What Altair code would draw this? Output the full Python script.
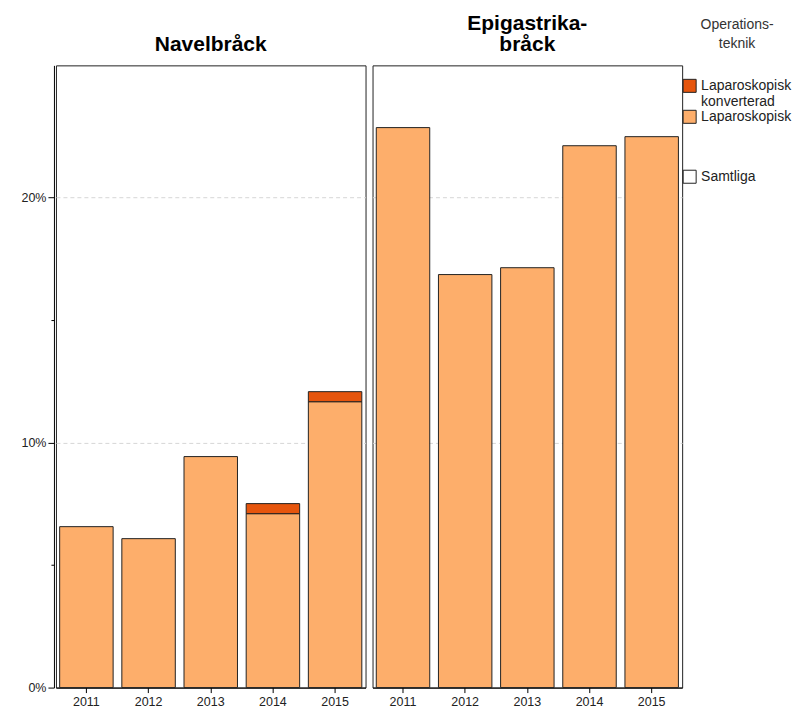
import altair as alt
import pandas as pd

years = ["2011", "2012", "2013", "2014", "2015"]
panels = ["Navelbråck", "Epigastrikabråck"]
techniques = ["Laparoskopisk konverterad", "Laparoskopisk"]

navel_lap = [6.57, 6.08, 9.43, 7.10, 11.67]
navel_conv = [0.0, 0.0, 0.0, 0.41, 0.41]
epi_lap = [22.86, 16.86, 17.14, 22.12, 22.49]
epi_conv = [0.0, 0.0, 0.0, 0.0, 0.0]

colors = ["#E6550D", "#FDAE6B"]

rows = []
for panel, lap, conv in [(panels[0], navel_lap, navel_conv), (panels[1], epi_lap, epi_conv)]:
    for y, a, b in zip(years, lap, conv):
        rows.append({"panel": panel, "year": y, "teknik": techniques[1], "value": a, "ord": 0})
        if b > 0:
            rows.append({"panel": panel, "year": y, "teknik": techniques[0], "value": b, "ord": 1})
df = pd.DataFrame(rows)

YMAX = 25.4
LEG_X = 627


def panel_chart(name, title_text, show_labels):
    sub = df[df.panel == name]
    yaxis = alt.Axis(
        values=[0, 5, 10, 15, 20],
        labelExpr="datum.value % 10 == 0 ? datum.value + '%' : ''",
        labels=show_labels,
        ticks=show_labels,
        domain=show_labels,
        tickSize={"condition": {"test": "datum.value % 10 == 0", "value": 6}, "value": 3},
        tickColor="black",
        domainColor="black",
        labelColor="#222",
        labelFontSize=12.5,
        labelPadding=2,
        offset=2 if show_labels else 0,
        grid=True,
        gridDash=[4, 3],
        gridColor="#d6d6d6",
        gridOpacity={"condition": {"test": "datum.value == 10 || datum.value == 20", "value": 1}, "value": 0},
        title=None,
    )
    bars = alt.Chart(sub).mark_bar(stroke="#222", strokeWidth=1, opacity=1).encode(
        x=alt.X(
            "year:N",
            title=None,
            sort=years,
            scale=alt.Scale(paddingInner=0.14, paddingOuter=0.06),
            axis=alt.Axis(labelAngle=0, tickSize=5, tickColor="black", domainColor="black",
                          labelColor="#222", labelFontSize=12.5, labelPadding=3),
        ),
        y=alt.Y("value:Q", stack="zero", scale=alt.Scale(domain=[0, YMAX], nice=False, zero=True), axis=yaxis),
        color=alt.Color(
            "teknik:N",
            scale=alt.Scale(domain=techniques, range=colors),
            legend=alt.Legend(
                title=["Operations-", "teknik"],
                titleAlign="center",
                titleAnchor="middle",
                titleFontWeight="normal",
                titleFontSize=14,
                titleColor="#333",
                titleLineHeight=19,
                titlePadding=27,
                labelFontSize=14,
                labelColor="#222",
                labelExpr="datum.label == 'Laparoskopisk konverterad' ? ['Laparoskopisk', 'konverterad'] : datum.label",
                symbolType="square",
                symbolSize=170,
                symbolStrokeColor="#222",
                symbolStrokeWidth=1,
                symbolOpacity=1,
                orient="none",
                legendX=LEG_X,
                legendY=-47,
                padding=0,
            ),
        ),
        order=alt.Order("ord:Q"),
    )
    layers = [bars]
    if not show_labels:
        dummy = alt.Chart(pd.DataFrame({"s": ["Samtliga"]})).mark_point(
            shape="square", opacity=0, size=1
        ).encode(
            shape=alt.Shape(
                "s:N",
                scale=alt.Scale(domain=["Samtliga"], range=["square"]),
                legend=alt.Legend(
                    title=None,
                    symbolFillColor="white",
                    symbolStrokeColor="#222",
                    symbolStrokeWidth=1,
                    symbolOpacity=1,
                    symbolSize=170,
                    labelFontSize=14,
                    labelColor="#222",
                    orient="none",
                    legendX=LEG_X,
                    legendY=104,
                    padding=0,
                ),
            ),
            x=alt.value(10),
            y=alt.value(10),
        )
        layers.append(dummy)
    return alt.layer(*layers).properties(
        width=310,
        height=623,
        title=alt.Title(title_text, fontSize=21, fontWeight="bold", color="black", baseline="bottom",
                        offset=-11, anchor="middle", lineHeight=21),
    )


left = panel_chart(panels[0], "Navelbråck", True)
right = panel_chart(panels[1], ["Epigastrika-", "bråck"], False)

chart = alt.hconcat(left, right, spacing=5).resolve_scale(color="shared", shape="shared").properties(
    padding={"left": 12, "top": 4, "right": 5, "bottom": 2}
).configure(font="Liberation Sans").configure_view(
    stroke="#222", strokeWidth=1
).configure_legend(
    rowPadding=-3
)

chart.save("out.html", embed_options={"renderer": "svg", "actions": False})
